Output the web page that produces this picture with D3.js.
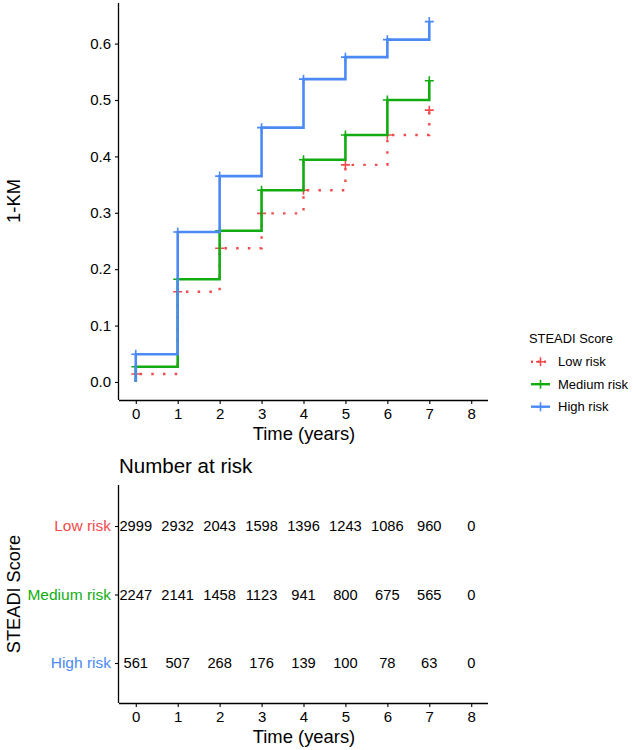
<!DOCTYPE html>
<html><head><meta charset="utf-8">
<script src="https://cdn.jsdelivr.net/npm/d3@7"></script>
<style>
body{margin:0;background:#fff;}
svg{display:block;font-family:"Liberation Sans",Arial,Helvetica,sans-serif;}
</style></head>
<body>
<script>
// ---- data ----
const times = [0,1,2,3,4,5,6,7];
const groups = ["Low risk","Medium risk","High risk"];
const lowRisk    = [0.014,0.160,0.237,0.299,0.340,0.385,0.438,0.482];
const mediumRisk = [0.027,0.182,0.268,0.340,0.394,0.438,0.500,0.534];
const highRisk   = [0.049,0.266,0.365,0.451,0.537,0.576,0.607,0.639];
const xTicks = [0,1,2,3,4,5,6,7,8];
const yTicks = [0.0,0.1,0.2,0.3,0.4,0.5,0.6];
const riskTimes = [0,1,2,3,4,5,6,7,8];
const atRiskLow    = [2999,2932,2043,1598,1396,1243,1086,960,0];
const atRiskMedium = [2247,2141,1458,1123,941,800,675,565,0];
const atRiskHigh   = [561,507,268,176,139,100,78,63,0];

const colors = {"Low risk":"#F34B4B","Medium risk":"#12AC12","High risk":"#4B89F5"};
const dash = {"Low risk":"2.5 9.2","Medium risk":null,"High risk":null};

const W=633,H=750;
const svg=d3.select("body").append("svg").attr("width",W).attr("height",H);

function styleAxis(g,fs){
  g.select(".domain").attr("stroke","#000").attr("stroke-width",1.3);
  g.selectAll(".tick line").attr("stroke","#000").attr("stroke-width",1.1);
  g.selectAll(".tick text").attr("fill","#000").style("font-size",fs);
}

// ---- top panel ----
const x=d3.scaleLinear().domain([-0.4,8.4]).range([119,488]);
const y=d3.scaleLinear().domain([-0.032,0.672]).range([400,3]);

const gx=svg.append("g").attr("transform","translate(0,400)")
  .call(d3.axisBottom(x).tickValues(xTicks).tickSize(4).tickPadding(4).tickFormat(d3.format("d")));
const gy=svg.append("g").attr("transform","translate(119,0)")
  .call(d3.axisLeft(y).tickValues(yTicks).tickSize(4).tickPadding(4).tickFormat(d3.format(".1f")));
styleAxis(gx,"15px"); styleAxis(gy,"15px");
gx.select(".domain").attr("d","M119,0.5H488");
gy.select(".domain").attr("d","M-0.5,3V400");

svg.append("text").attr("x",304).attr("y",440).attr("text-anchor","middle")
  .style("font-size","18.4px").text("Time (years)");
svg.append("text").attr("transform","translate(20,201) rotate(-90)").attr("text-anchor","middle")
  .style("font-size","18.4px").text("1-KM");

const series={"Low risk":lowRisk,"Medium risk":mediumRisk,"High risk":highRisk};
const line=d3.line().x(d=>x(d[0])).y(d=>y(d[1])).curve(d3.curveStepAfter);
groups.forEach(gn=>{
  const vals=series[gn];
  const pts=[[0,0]].concat(times.map((t,i)=>[t,vals[i]]));
  const p=svg.append("path").attr("d",line(pts)).attr("fill","none")
    .attr("stroke",colors[gn]).attr("stroke-width",2.6);
  if(dash[gn]) p.attr("stroke-dasharray",dash[gn]).attr("stroke-width",2.4);
  times.forEach((t,i)=>{
    const cx=x(t),cy=y(vals[i]);
    svg.append("path").attr("d",`M${cx-4.5},${cy}H${cx+4.5}M${cx},${cy-4.5}V${cy+4.5}`)
      .attr("stroke",colors[gn]).attr("stroke-width",1.6);
  });
});

// legend
svg.append("text").attr("x",529).attr("y",342.5).style("font-size","12.9px").text("STEADI Score");
groups.forEach((gn,i)=>{
  const cy=361.7+i*22.5;
  const l=svg.append("line").attr("x1",531).attr("x2",550).attr("y1",cy).attr("y2",cy)
    .attr("stroke",colors[gn]).attr("stroke-width",2.4);
  if(dash[gn]) l.attr("stroke-dasharray","2 4.5");
  svg.append("path").attr("d",`M${540.5-4.5},${cy}H${540.5+4.5}M540.5,${cy-4.5}V${cy+4.5}`)
    .attr("stroke",colors[gn]).attr("stroke-width",1.6);
  svg.append("text").attr("x",558).attr("y",cy+4.7).style("font-size","13px").text(gn);
});

// ---- risk table ----
svg.append("text").attr("x",119).attr("y",473).style("font-size","20.5px").text("Number at risk");
const yr=d3.scalePoint().domain(groups).range([526,663]);
const gx2=svg.append("g").attr("transform","translate(0,703)")
  .call(d3.axisBottom(x).tickValues(xTicks).tickSize(4).tickPadding(4).tickFormat(d3.format("d")));
const gy2=svg.append("g").attr("transform","translate(119,0)")
  .call(d3.axisLeft(yr).tickSize(4).tickPadding(4));
styleAxis(gx2,"15px"); styleAxis(gy2,"15.5px");
gx2.select(".domain").attr("d","M119,0.5H488");
gy2.select(".domain").attr("d","M-0.5,485V703");
gy2.selectAll(".tick text").attr("fill",d=>colors[d]);

svg.append("text").attr("x",304).attr("y",743).attr("text-anchor","middle")
  .style("font-size","18.4px").text("Time (years)");
svg.append("text").attr("transform","translate(20,594) rotate(-90)").attr("text-anchor","middle")
  .style("font-size","18.2px").text("STEADI Score");

const atRisk={"Low risk":atRiskLow,"Medium risk":atRiskMedium,"High risk":atRiskHigh};
groups.forEach(gn=>{
  riskTimes.forEach((t,i)=>{
    svg.append("text").attr("x",x(t)).attr("y",yr(gn)+5.3).attr("text-anchor","middle")
      .style("font-size","14.7px").attr("fill","#000").text(atRisk[gn][i]);
  });
});
</script>
</body></html>
